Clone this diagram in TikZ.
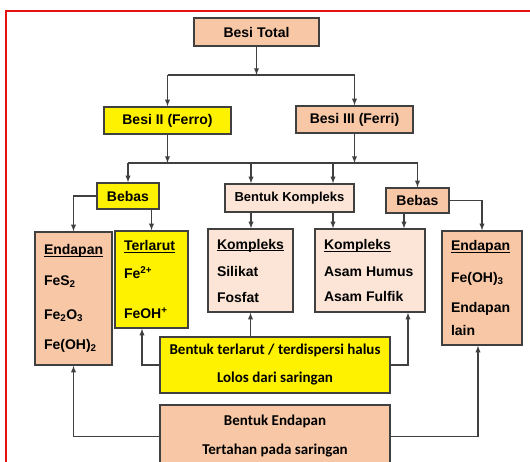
\documentclass[tikz,border=0pt]{standalone}
\usepackage{fontspec}
\setmainfont{Liberation Sans}
\newfontfamily\calibri{Carlito}
\definecolor{jingga}{RGB}{247,199,166}
\definecolor{muda}{RGB}{252,229,214}
\definecolor{garis}{RGB}{64,64,64}
\definecolor{bingkai}{RGB}{228,18,18}
\newcommand\garisbawah[1]{\setbox0\hbox{#1}\rlap{\rule[-2pt]{\wd0}{1pt}}\box0}
\begin{document}
\begin{tikzpicture}[x=1pt,y=-1pt,>=latex,
  kotak/.style={draw=garis,line width=1.3pt,inner sep=0pt,font=\bfseries\fontsize{14}{17}\selectfont},
  kotakjingga/.style={kotak,fill=jingga},
  kotakkuning/.style={kotak,fill=yellow},
  kotakmuda/.style={kotak,fill=muda},
  daftar/.style={align=flush left,inner xsep=9pt},
  bawah/.style={align=center,font=\calibri\bfseries\fontsize{15}{18}\selectfont},
  sambung/.style={line width=1.3pt,draw=garis},
  panah/.style={sambung,->}]
\useasboundingbox (0,0) rectangle (530,461);
\clip (0,0) rectangle (530,461);
\fill[white] (0,0) rectangle (530,461);
\draw[bingkai,line width=2pt] (6,11) rectangle (545,475);

\node[kotakjingga,minimum width=125pt,minimum height=28pt] (total) at (256.5,32) {Besi Total};
\node[kotakkuning,minimum width=127pt,minimum height=27pt] (ferro) at (167.5,120.5) {Besi II (Ferro)};
\node[kotakjingga,minimum width=117pt,minimum height=27pt] (ferri) at (354.5,119.5) {Besi III (Ferri)};
\node[kotakkuning,minimum width=62pt,minimum height=26pt] (bebas1) at (128,196) {Bebas};
\node[kotakmuda,minimum width=129pt,minimum height=28pt,font=\bfseries\fontsize{13}{16}\selectfont] (bentukkompleks) at (289.5,198) {Bentuk Kompleks};
\node[kotakjingga,minimum width=63pt,minimum height=25pt] (bebas2) at (417.5,200.5) {Bebas};

\node[kotakjingga,daftar,text width=59pt,minimum height=133pt] (endapan1) at (73.5,298.5)
  {\garisbawah{Endapan}\\[14pt]FeS\textsubscript{2}\\[17pt]Fe\textsubscript{2}O\textsubscript{3}\\[13pt]Fe(OH)\textsubscript{2}};
\node[kotakkuning,daftar,text width=55pt,minimum height=97pt] (larut) at (151.5,279.5)
  {\garisbawah{Terlarut}\\[11pt]Fe\textsuperscript{2+}\\[23pt]FeOH\textsuperscript{+}};
\node[kotakmuda,daftar,text width=67pt,minimum height=83pt] (silikat) at (250.5,270.5)
  {\garisbawah{Kompleks}\\[10pt]Silikat\\[9pt]Fosfat};
\node[kotakmuda,daftar,text width=92pt,minimum height=83pt] (humus) at (370,270.5)
  {\garisbawah{Kompleks}\\[10pt]Asam Humus\\[8pt]Asam Fulfik};
\node[kotakjingga,daftar,text width=62pt,minimum height=114pt] (endapan2) at (482,288)
  {\garisbawah{Endapan}\\[15pt]Fe(OH)\textsubscript{3}\\[13pt]Endapan\\[6pt]lain};

\node[kotakkuning,bawah,minimum width=230pt,minimum height=56pt] (lolos) at (275,365)
  {Bentuk terlarut / terdispersi halus\\[10pt]Lolos dari saringan};
\node[kotakjingga,bawah,minimum width=230pt,minimum height=63pt] (tahan) at (275,436.5)
  {Bentuk Endapan\\[11pt]Tertahan pada saringan};

\coordinate (cabang1) at (256.5,75);
\coordinate (cabang2) at (256.5,163);
\coordinate (kiri) at (251,0);
\coordinate (kanan) at (333,0);
\coordinate (kanan2) at (404,0);
\coordinate (naik1) at (142,0);
\coordinate (naik2) at (408,0);
\coordinate (naik3) at (478,0);

\draw[panah] (total) -- (cabang1);
\draw[sambung] (ferro |- cabang1) -- (ferri |- cabang1);
\foreach \n in {ferro,ferri}
\draw[panah] (\n |- cabang1) -- (\n);
\foreach \n in {ferro,ferri}
\draw[panah] (\n) -- (\n |- cabang2);
\draw[sambung] (bebas1 |- cabang2) -- (bebas2 |- cabang2);
\draw[panah] (bebas1 |- cabang2) -- (bebas1);
\draw[panah] (bebas2 |- cabang2) -- (bebas2);
\foreach \k in {kiri,kanan}
\draw[panah] (\k |- cabang2) -- (\k |- bentukkompleks.north);

\draw[panah] (bebas1.west) -| (endapan1.north);
\draw[panah] (larut.north |- bebas1.south) -- (larut.north);
\draw[panah] (kiri |- bentukkompleks.south) -- (kiri |- silikat.north);
\draw[panah] (kanan |- bentukkompleks.south) -- (kanan |- humus.north);
\draw[panah] (kanan2 |- bebas2.south) -- (kanan2 |- humus.north);
\draw[panah] (bebas2.east) -| (endapan2.north);

\draw[panah] (lolos.west) -| (naik1 |- larut.south);
\draw[panah] (silikat.south |- lolos.north) -- (silikat.south);
\draw[panah] (lolos.east) -| (naik2 |- humus.south);
\draw[panah] (tahan.west) -| (endapan1.south);
\draw[panah] (tahan.east) -| (naik3 |- endapan2.south);
\end{tikzpicture}
\end{document}
